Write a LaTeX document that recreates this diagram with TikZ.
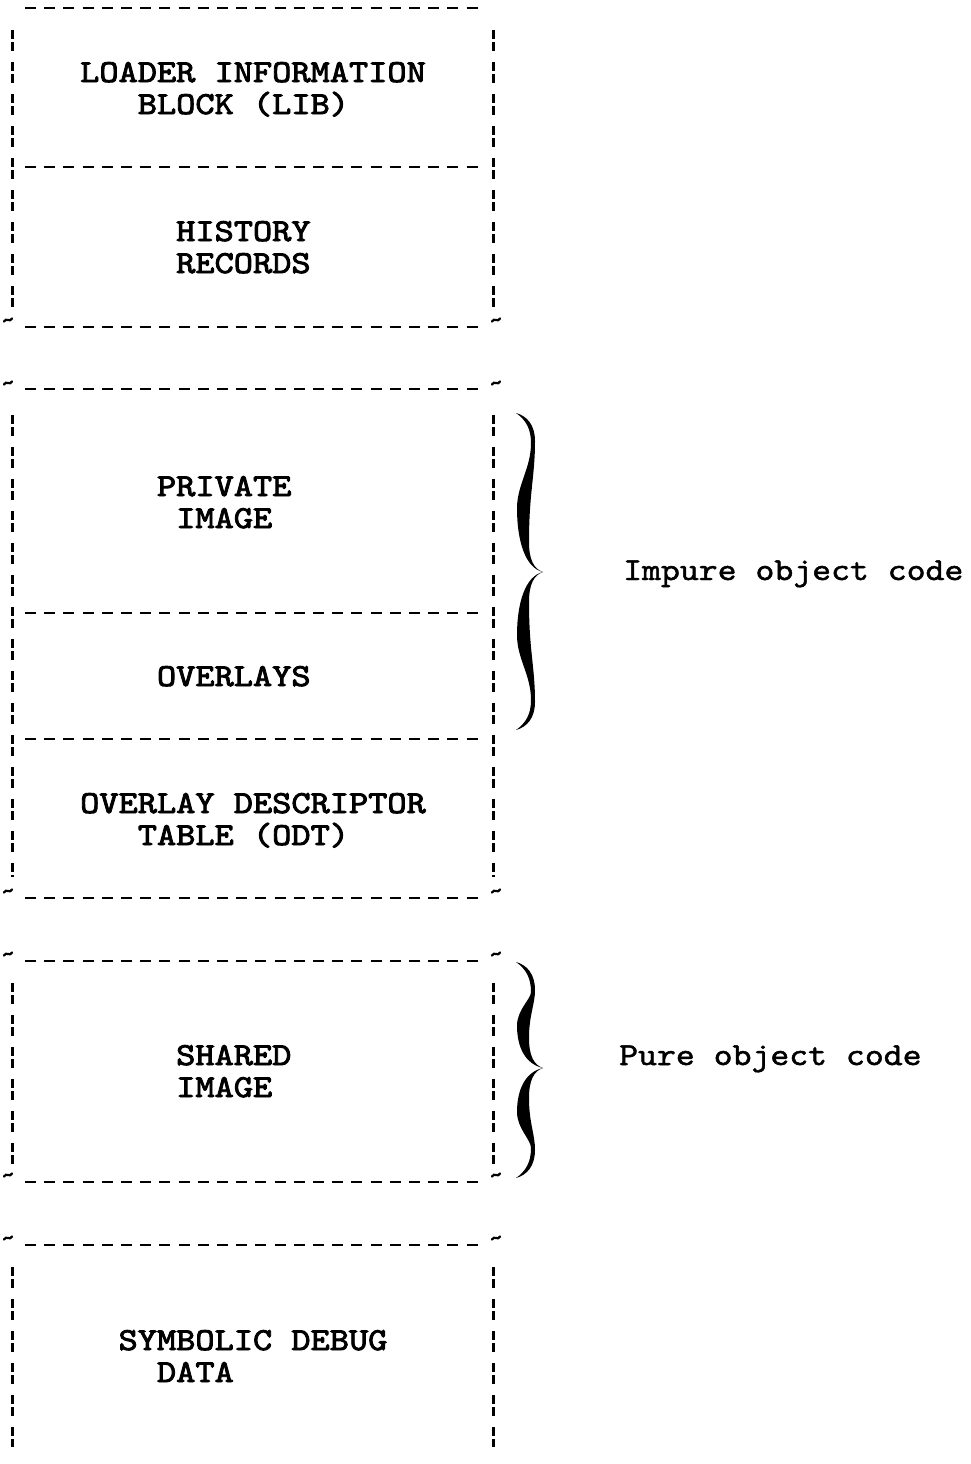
\documentclass[tikz,border=0pt]{standalone}
\usepackage{fontspec}
% typewriter faces: Latin Modern Mono widened to a 0.6 em pitch
\newfontfamily\boxfont{lmmono10-regular}[Extension=.otf,FakeStretch=1.143,FakeBold=2.8]
\newfontfamily\labelfont{lmmono10-regular}[Extension=.otf,FakeStretch=1.125,FakeBold=1.5]

% one arm of a curly brace: tip at (0,0), hooked end at depth #1
\newcommand\bracearm[1]{%
  \fill (0,0) .. controls (-9,3) and (-14,12) .. (-14,30)
    .. controls (-14,{0.5*#1}) and (-8,{0.6*#1}) .. (-8,{#1-28})
    .. controls (-8,{#1-12}) and (-16,{#1-3}) .. (-27,{#1})
    .. controls (-17,{#1-7}) and (-12,{#1-16}) .. (-12,{#1-30})
    .. controls (-12,{0.65*#1}) and (-26,{0.55*#1}) .. (-26,{0.4*#1})
    .. controls (-26,{0.2*#1}) and (-18,4) .. (0,0) -- cycle;}

\begin{document}
\begin{tikzpicture}[x=1pt,y=-1pt,
  hline/.style={line width=2.8pt,dash pattern=on 11pt off 8.2pt},
  vline/.style={line width=3pt,dash pattern=on 9pt off 3pt on 9pt off 11pt},
  tickmark/.style={line width=2.2pt,line cap=round},
  boxtext/.style={anchor=base west,inner sep=0pt,
    font=\fontsize{32}{32}\selectfont\boxfont},
  sidetext/.style={anchor=base west,inner sep=0pt,
    font=\fontsize{32}{32}\selectfont\labelfont},
  pics/tilde/.style={code={\draw[tickmark] (-4,1.5) .. controls (-2,-3) and (2,3) .. (4,-1.5);}},
  pics/curly/.style 2 args={code={%
    \bracearm{#2}
    \begin{scope}[yscale=-1]\bracearm{#1}\end{scope}}},
]
\useasboundingbox (0,0) rectangle (970,1464);

% ---- loader information block / history records
\draw[hline] (25,8) -- (482,8);
\draw[hline] (25,167) -- (482,167);
\draw[hline] (25,327) -- (482,327);
\draw[vline] (12,30) -- (12,307);
\draw[vline] (493,30) -- (493,307);
\pic at (8,320) {tilde};
\pic at (496,320) {tilde};
\node[boxtext] (lib1) at (80,82) {LOADER INFORMATION};
\node[boxtext] (lib2) at (137.6,114) {BLOCK (LIB)};
\node[boxtext] (hist1) at (176,241) {HISTORY};
\node[boxtext] (hist2) at (176,273) {RECORDS};

% ---- private image / overlays / overlay descriptor table
\pic at (8,383) {tilde};
\pic at (496,383) {tilde};
\draw[hline] (25,389) -- (482,389);
\draw[hline] (25,613) -- (482,613);
\draw[hline] (25,739) -- (482,739);
\draw[hline] (25,898) -- (482,898);
\draw[vline] (12,415) -- (12,877);
\draw[vline] (493,415) -- (493,877);
\pic at (8,891) {tilde};
\pic at (496,891) {tilde};
\node[boxtext] (priv1) at (156.8,496) {PRIVATE};
\node[boxtext] (priv2) at (176,528) {IMAGE};
\node[boxtext] (ovl) at (156.8,686) {OVERLAYS};
\node[boxtext] (odt1) at (80,813) {OVERLAY DESCRIPTOR};
\node[boxtext] (odt2) at (137.6,845) {TABLE (ODT)};

% ---- shared image
\pic at (8,954) {tilde};
\pic at (496,954) {tilde};
\draw[hline] (25,961) -- (482,961);
\draw[hline] (25,1182) -- (482,1182);
\draw[vline] (12,983) -- (12,1170);
\draw[vline] (493,983) -- (493,1170);
\pic at (8,1175) {tilde};
\pic at (496,1175) {tilde};
\node[boxtext] (shr1) at (176,1065) {SHARED};
\node[boxtext] (shr2) at (176,1097) {IMAGE};

% ---- symbolic debug data
\pic at (8,1238) {tilde};
\pic at (496,1238) {tilde};
\draw[hline] (25,1245) -- (482,1245);
\draw[vline] (12,1267) -- (12,1447);
\draw[vline] (493,1267) -- (493,1447);
\node[boxtext] (dbg1) at (118.4,1350) {SYMBOLIC DEBUG};
\node[boxtext] (dbg2) at (156.8,1382) {DATA};

% ---- braces and their labels
\pic at (543,572) {curly={159}{158}};
\node[sidetext] (impure) at (623,580) {Impure object code};
\pic at (543,1068) {curly={106}{110}};
\node[sidetext] (pure) at (619,1065) {Pure object code};
\end{tikzpicture}
\end{document}
